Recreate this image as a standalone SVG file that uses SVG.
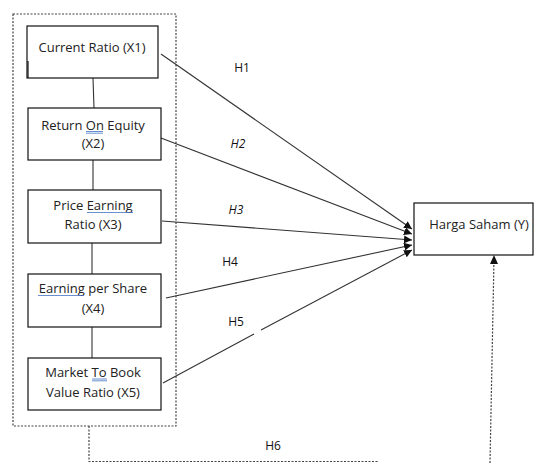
<svg xmlns="http://www.w3.org/2000/svg" width="537" height="463" viewBox="0 0 537 463">
<style>
.box{fill:#fff;stroke:#111;stroke-width:1.2}
.t{font-family:"Open Sans","Liberation Sans",Arial,sans-serif;font-size:13px;fill:#222;text-anchor:middle}
.h{font-family:"Open Sans","Liberation Sans",Arial,sans-serif;font-size:12px;fill:#111;text-anchor:middle}
.c{stroke:#333;stroke-width:1.1;fill:none}
.d{stroke:#444;stroke-width:1.2;fill:none;stroke-dasharray:2 1.5}
.u{stroke:#4472c4;stroke-width:0.8}
</style>
<defs>
<marker id="ah" viewBox="0 0 10 10" refX="10" refY="5" markerWidth="8" markerHeight="8" markerUnits="userSpaceOnUse" orient="auto">
<path d="M0,0 L10,5 L0,10 z" fill="#111"/>
</marker>
</defs>
<rect x="13" y="14" width="163" height="412" class="d"/>
<g id="connectors">
<line class="c" x1="93" y1="78" x2="94" y2="108"/>
<line class="c" x1="93" y1="160" x2="93" y2="190"/>
<line class="c" x1="92" y1="243" x2="92" y2="274"/>
<line class="c" x1="92" y1="327" x2="92" y2="358"/>
<line class="c" x1="161" y1="54" x2="412" y2="229" marker-end="url(#ah)"/>
<line class="c" x1="161" y1="138" x2="412" y2="234" marker-end="url(#ah)"/>
<line class="c" x1="162" y1="221" x2="412" y2="240" marker-end="url(#ah)"/>
<line class="c" x1="166" y1="298" x2="412" y2="245" marker-end="url(#ah)"/>
<line class="c" x1="163" y1="383" x2="254" y2="334"/>
<line class="c" x1="261" y1="330" x2="412" y2="250" marker-end="url(#ah)"/>
<polyline class="d" points="89,426 89,461.5 378,461.5"/>
<line class="d" x1="490" y1="463" x2="494" y2="258"/>
<path d="M490,264 L494,255 L498,264 z" fill="#111"/>
<text class="h" x="242" y="71.5">H1</text>
<text class="h" x="238" y="148" font-style="italic">H2</text>
<text class="h" x="236" y="214" font-style="italic">H3</text>
<text class="h" x="230" y="266">H4</text>
<text class="h" x="236" y="326">H5</text>
<text class="h" x="273" y="450">H6</text>
</g>
<g id="x1">
<rect class="box" x="27" y="26" width="131" height="52"/>
<line x1="28" y1="61" x2="28" y2="78" stroke="#111" stroke-width="1.2"/>
<text class="t" x="92" y="51.5">Current Ratio (X1)</text>
</g>
<g id="x2">
<rect class="box" x="28" y="108" width="133" height="52"/>
<text class="t" x="93" y="129.5">Return On Equity</text>
<text class="t" x="93" y="147.5">(X2)</text>
<line class="u" x1="86" y1="131.5" x2="103" y2="131.5"/>
<line class="u" x1="86" y1="133.2" x2="103" y2="133.2"/>
</g>
<g id="x3">
<rect class="box" x="28" y="190" width="133" height="53"/>
<text class="t" x="93" y="209.5">Price Earning</text>
<text class="t" x="93" y="228.5">Ratio (X3)</text>
<line class="u" x1="87" y1="212.5" x2="133" y2="212.5" stroke-width="1.2"/>
</g>
<g id="x4">
<rect class="box" x="28" y="274" width="133" height="53"/>
<text class="t" x="93" y="292.5">Earning per Share</text>
<text class="t" x="93" y="312.5">(X4)</text>
<line class="u" x1="38" y1="295.5" x2="84" y2="295.5" stroke-width="1.2"/>
</g>
<g id="x5">
<rect class="box" x="28" y="358" width="133" height="52"/>
<text class="t" x="93" y="376.5">Market To Book</text>
<text class="t" x="93" y="396.5">Value Ratio (X5)</text>
<line class="u" x1="92" y1="379" x2="107" y2="379"/>
<line class="u" x1="92" y1="380.8" x2="107" y2="380.8"/>
</g>
<g id="y">
<rect class="box" x="414" y="203" width="119" height="52"/>
<text class="t" x="479" y="228.5">Harga Saham (Y)</text>
</g>
</svg>
